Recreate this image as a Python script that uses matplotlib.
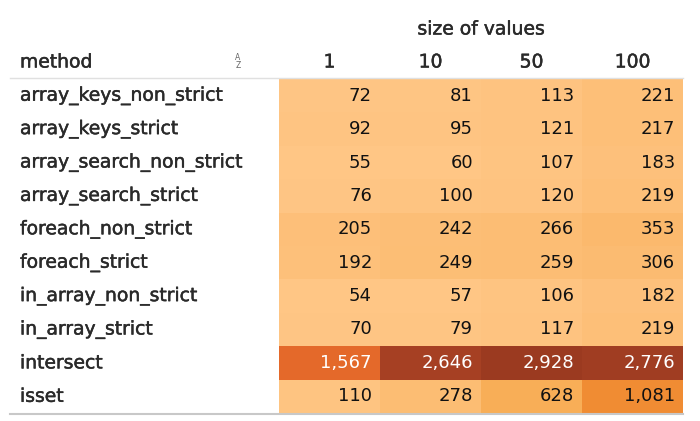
import numpy as np
import matplotlib.pyplot as plt
import matplotlib.patheffects as pe
from matplotlib.colors import LinearSegmentedColormap, Normalize

methods = ['array_keys_non_strict', 'array_keys_strict', 'array_search_non_strict',
           'array_search_strict', 'foreach_non_strict', 'foreach_strict',
           'in_array_non_strict', 'in_array_strict', 'intersect', 'isset']
sizes = ['1', '10', '50', '100']
v1 = [72, 92, 55, 76, 205, 192, 54, 70, 1567, 110]
v10 = [81, 95, 60, 100, 242, 249, 57, 79, 2646, 278]
v50 = [113, 121, 107, 120, 266, 259, 106, 117, 2928, 628]
v100 = [221, 217, 183, 219, 353, 306, 182, 219, 2776, 1081]

vals = np.array([v1, v10, v50, v100]).T

plt.rcParams['font.family'] = ['DejaVu Sans']

W, H = 700, 421
fig = plt.figure(figsize=(W / 100, H / 100), dpi=100)

def fx(x):
    return x / W

def fy(y):
    return 1 - y / H

# table area in pixels
x0, x1, y0, y1 = 279, 683, 79, 413
ax = fig.add_axes([fx(x0), fy(y1), fx(x1 - x0), (y1 - y0) / H])

cmap = LinearSegmentedColormap.from_list('tab_orange', [
    (0.0, '#ffc685'), (0.2, '#f8ae57'), (0.37, '#f08a30'),
    (0.53, '#e4692a'), (0.75, '#b84a2a'), (1.0, '#9b3a20')])
norm = Normalize(vmin=vals.min(), vmax=vals.max())

ax.imshow(vals, cmap=cmap, norm=norm, aspect='auto', interpolation='nearest')
ax.set_axis_off()

fs = 13
fs_lab = 13.5
dark = '#2a2a2a'
heavy = [pe.withStroke(linewidth=0.35, foreground=dark)]
nr, nc = vals.shape
for i in range(nr):
    for j in range(nc):
        v = vals[i, j]
        col = 'white' if norm(v) > 0.45 else '#111111'
        ax.text(j + 0.42, i, f'{v:,}', ha='right', va='center',
                fontsize=fs, color=col)

# row labels
row_h = (y1 - y0) / nr
col_w = (x1 - x0) / nc
for i, m in enumerate(methods):
    fig.text(fx(20), fy(y0 + row_h * (i + 0.5)), m, ha='left', va='center',
             fontsize=fs_lab, color=dark, path_effects=heavy)

# headers
fig.text(fx(20), fy(62), 'method', ha='left', va='center', fontsize=fs_lab,
         color=dark, path_effects=heavy)
fig.text(fx(238), fy(57), 'A', ha='center', va='center', fontsize=5.5,
         color='#666666')
fig.text(fx(238), fy(66), 'Z', ha='center', va='center', fontsize=5.5,
         color='#666666')
for j, s in enumerate(sizes):
    fig.text(fx(x0 + col_w * (j + 0.5)), fy(62), s, ha='center', va='center',
             fontsize=fs_lab, color=dark, path_effects=heavy)
fig.text(fx(x0 + col_w * 2), fy(29), 'size of values', ha='center',
         va='center', fontsize=fs_lab, color=dark, path_effects=heavy)

# separator lines
fig.add_artist(plt.Line2D([fx(10), fx(x1)], [fy(78), fy(78)], color='#e0e0e0',
                          lw=1))
fig.add_artist(plt.Line2D([fx(10), fx(x1)], [fy(414), fy(414)],
                          color='#c8c8c8', lw=1.5))

fig.savefig('out.png', dpi=100)
